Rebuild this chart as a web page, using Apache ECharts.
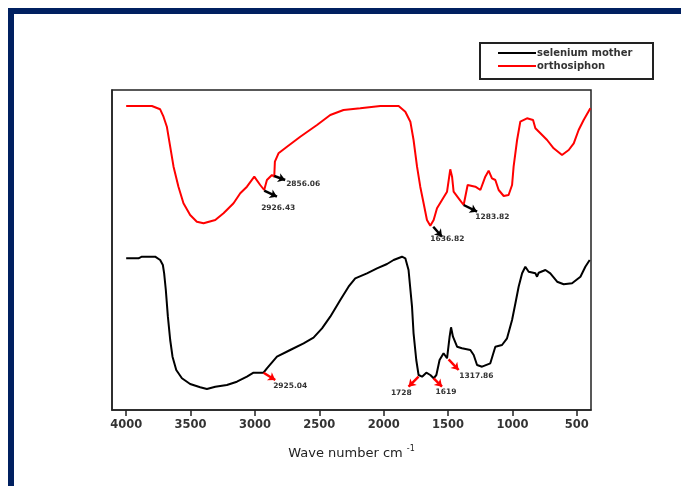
<!DOCTYPE html>
<html>
<head>
<meta charset="utf-8">
<script src="https://cdn.jsdelivr.net/npm/echarts@6/dist/echarts.min.js"></script>
<style>
  html, body { margin: 0; padding: 0; background: #fff; }
  #ftirChart { width: 681px; height: 486px; }
</style>
</head>
<body>
<div id="ftirChart"></div>
<script>
// wave number (cm-1) / transmittance (arbitrary units)
var orthosiphon = [
  [4000,304],[3800,304],[3736,300.7],[3710,293.3],[3684,283.3],[3658,263.3],[3632,243.3],[3594,223.3],
  [3555,206.7],[3503,195],[3451,188.3],[3399,186.7],[3308,190],[3244,196.7],[3166,206.7],[3114,216.7],
  [3062,223.3],[3005,233.3],[2959,225],[2928,220],[2907,230],[2868,235],[2850,233.3],[2845,248.3],
  [2817,256.7],[2751,263.3],[2648,273.3],[2518,285],[2415,295],[2312,300],[2182,301.7],[2026,304],
  [1884,304],[1832,298.3],[1793,288.3],[1768,270],[1741,243.3],[1716,223.3],[1690,206.7],[1664,190],
  [1638,184.3],[1612,190],[1586,201.7],[1547,210],[1508,218.3],[1483,240.7],[1469,233.3],[1457,218.3],
  [1418,211.7],[1379,205],[1348,225],[1288,223.3],[1249,220],[1211,233.3],[1185,239.3],[1159,231.7],
  [1133,230],[1107,220],[1068,214],[1030,215],[1003,225],[991,243.3],[964,270],[939,288.3],[887,291.7],
  [840,290],[822,281.7],[783,276.7],[731,270],[680,261.7],[615,255],[563,260],[524,266.7],[486,280],
  [447,290],[395,301.7]
];

var seleniumMother = [
  [4000,151.7],[3904,151.7],[3878,153.3],[3775,153.3],[3736,150],[3715,145],[3705,136.7],[3692,120],
  [3676,93.3],[3658,70],[3640,53.3],[3611,40],[3567,31.7],[3503,26],[3425,22.7],[3373,21],[3308,23.3],
  [3218,25],[3140,28.3],[3062,33.3],[3011,37.3],[2933,37.3],[2907,41.7],[2829,53.3],[2726,60],
  [2622,66.7],[2545,72.3],[2479,81.7],[2415,93.3],[2337,110],[2273,123.3],[2221,131.7],[2130,136.7],
  [2052,141.7],[1974,146],[1923,150],[1858,153.3],[1832,151.7],[1807,140],[1780,103.3],[1768,76.7],
  [1747,50],[1729,35],[1702,33.3],[1669,37.3],[1638,35],[1612,31.7],[1591,35],[1566,50],[1535,56.7],
  [1508,51.7],[1488,73.3],[1477,82.7],[1462,73.3],[1430,63.3],[1392,61.7],[1327,60],[1301,55],
  [1275,45],[1236,43.3],[1172,46.7],[1133,63.3],[1081,65],[1042,71.7],[1003,90],[977,106.7],
  [952,123.3],[925,136.7],[900,143.3],[874,138.3],[822,136.7],[809,133.3],[796,137.3],[744,140],
  [706,136.7],[653,128.3],[602,125.7],[537,126.7],[472,133.3],[434,143.3],[400,150]
];

var xTicks = [4000, 3500, 3000, 2500, 2000, 1500, 1000, 500];

// annotation: text, point on curve, arrow end, label position
var orthoNotes = [
  { text: '2926.43', from: [2928, 219.3], to: [2829, 213.3], at: [2819, 201.5] },
  { text: '2856.06', from: [2850, 234],   to: [2765, 230],   at: [2625, 226] },
  { text: '1636.82', from: [1615, 183.3], to: [1547, 173.3], at: [1506, 171] },
  { text: '1283.82', from: [1379, 205],   to: [1275, 198.3], at: [1156, 193] }
];
var seleniumNotes = [
  { text: '2925.04', from: [2933, 37.3], to: [2842, 30],   at: [2726, 24] },
  { text: '1728',    from: [1729, 33.3], to: [1807, 23.3], at: [1863, 17] },
  { text: '1619',    from: [1612, 31.7], to: [1547, 23.3], at: [1516, 18.3] },
  { text: '1317.86', from: [1496, 50.7], to: [1418, 40],   at: [1280, 34] }
];

function noteLines(notes) {
  return notes.map(function (n) {
    return [{ coord: n.from }, { coord: n.to }];
  });
}
function notePoints(notes) {
  return notes.map(function (n) {
    return { coord: n.at, value: n.text };
  });
}

var ftirChart = echarts.init(document.getElementById('ftirChart'));

var noteLabel = {
  show: true, position: 'inside', formatter: '{c}',
  fontFamily: 'DejaVu Sans', fontSize: 7.5, fontWeight: 'bold', color: '#333'
};

var option = {
  backgroundColor: '#fff',
  animation: false,
  textStyle: { fontFamily: 'DejaVu Sans, sans-serif' },
  grid: {
    left: 112, right: 90, top: 90, bottom: 76,
    show: true, borderColor: '#222', borderWidth: 1.5
  },
  legend: {
    orient: 'vertical',
    left: 497, top: 47,
    itemWidth: 38, itemHeight: 2, itemGap: 1,
    padding: 0,
    data: ['selenium mother', 'orthosiphon'],
    textStyle: {
      fontSize: 10, fontWeight: 'bold', color: '#333',
      padding: [0, 0, 0, -4], lineHeight: 12
    }
  },
  xAxis: {
    type: 'value',
    inverse: true,
    min: 390, max: 4110,
    name: '{a|Wave number cm }{s|-1}',
    nameLocation: 'middle',
    nameGap: 35,
    nameTextStyle: {
      rich: {
        a: { fontSize: 13, color: '#222' },
        s: { fontSize: 8, color: '#222', verticalAlign: 'top', padding: [0, 0, 9, 0] }
      }
    },
    axisLine: { lineStyle: { color: '#222', width: 1.5 } },
    axisTick: { customValues: xTicks, length: 6, lineStyle: { color: '#222', width: 1.5 } },
    axisLabel: {
      customValues: xTicks, margin: 9, fontSize: 11.5, fontWeight: 'bold', color: '#333',
      formatter: function (v) { return String(v); }
    },
    splitLine: { show: false }
  },
  yAxis: {
    type: 'value',
    min: 0, max: 320,
    axisLine: { show: true, lineStyle: { color: '#222', width: 1.5 } },
    axisTick: { show: false },
    axisLabel: { show: false },
    splitLine: { show: false }
  },
  graphic: [
    // dark blue page frame
    { type: 'rect', shape: { x: 8, y: 8, width: 673, height: 6 }, style: { fill: '#002060' } },
    { type: 'rect', shape: { x: 8, y: 8, width: 6, height: 478 }, style: { fill: '#002060' } },
    // legend box
    { type: 'rect', shape: { x: 480, y: 43, width: 173, height: 36 },
      style: { fill: 'none', stroke: '#222', lineWidth: 2 } }
  ],
  series: [
    {
      name: 'selenium mother',
      type: 'line',
      data: seleniumMother,
      symbol: 'none',
      legendIcon: 'rect',
      color: '#000',
      lineStyle: { width: 2 },
      markLine: {
        silent: true,
        symbol: ['none', 'arrow'],
        symbolSize: 7,
        label: { show: false },
        lineStyle: { color: '#ff0000', width: 2.5, type: 'solid' },
        data: noteLines(seleniumNotes)
      },
      markPoint: {
        symbol: 'circle', symbolSize: 0,
        label: noteLabel,
        data: notePoints(seleniumNotes)
      }
    },
    {
      name: 'orthosiphon',
      type: 'line',
      data: orthosiphon,
      symbol: 'none',
      legendIcon: 'rect',
      color: '#ff0000',
      lineStyle: { width: 2 },
      markLine: {
        silent: true,
        symbol: ['none', 'arrow'],
        symbolSize: 7,
        label: { show: false },
        lineStyle: { color: '#000', width: 2.5, type: 'solid' },
        data: noteLines(orthoNotes)
      },
      markPoint: {
        symbol: 'circle', symbolSize: 0,
        label: noteLabel,
        data: notePoints(orthoNotes)
      }
    }
  ]
};

ftirChart.setOption(option);
</script>
</body>
</html>
